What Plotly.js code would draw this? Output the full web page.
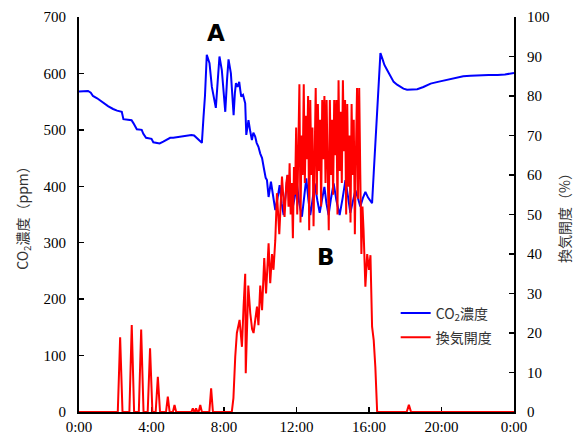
<!DOCTYPE html>
<html>
<head>
<meta charset="utf-8">
<script src="https://cdn.plot.ly/plotly-3.0.1.min.js"></script>
<style>
html,body{margin:0;padding:0;background:#fff;}
#chart{width:575px;height:443px;}
</style>
</head>
<body>
<div id="chart"></div>
<script>
// Time axis ticks
var tickHours = [0, 4, 8, 12, 16, 20, 24];
var tickLabels = ["0:00", "4:00", "8:00", "12:00", "16:00", "20:00", "0:00"];

// CO2 concentration (ppm), time in hours
var co2Hours = [0.0,0.3,0.5,0.65,0.77,1.0,1.33,1.6,1.88,2.1,2.36,2.45,2.7,2.9,3.0,3.19,3.46,3.55,3.7,4.0,4.1,4.25,4.45,4.65,4.85,5.03,5.2,5.4,5.6,5.85,6.0,6.2,6.35,6.5,6.65,6.78,6.87,6.95,7.05,7.2,7.33,7.45,7.55,7.65,7.75,7.88,7.98,8.07,8.17,8.25,8.38,8.45,8.53,8.6,8.66,8.75,8.84,8.9,8.95,9.05,9.17,9.23,9.3,9.35,9.45,9.54,9.62,9.72,9.8,9.9,10.0,10.1,10.2,10.3,10.37,10.46,10.59,10.7,10.83,10.95,11.07,11.18,11.29,11.4,11.51,11.65,11.8,11.9,12.02,12.15,12.3,12.42,12.54,12.65,12.76,12.88,13.0,13.15,13.28,13.4,13.54,13.65,13.77,13.9,14.05,14.2,14.38,14.55,14.7,14.85,14.97,15.1,15.25,15.4,15.52,15.65,15.8,15.95,16.05,16.17,16.26,16.35,16.45,16.55,16.63,16.75,16.85,17.0,17.18,17.36,17.55,17.73,17.9,18.1,18.4,18.66,19.0,19.4,19.8,20.3,20.7,21.2,21.6,22.15,22.6,23.1,23.5,24.0];
var co2Ppm = [568,569,569,566,560,556,548,542,537,534,532,519,518,517,512,501,500,493,486,484,478,477,476,479,483,486,486,487,488,489,491,491,490,486,481,477,523,560,633,618,576,555,539,585,630,606,565,532,590,625,600,560,526,565,583,576,585,570,559,562,547,491,510,517,497,482,495,488,477,470,458,450,432,415,411,381,408,385,358,378,402,370,349,385,420,385,364,380,405,370,346,380,414,378,349,375,405,375,353,375,399,370,349,378,405,375,349,380,411,380,353,372,393,378,364,378,390,380,376,370,423,480,541,600,636,625,615,606,595,585,580,576,573,571,571,572,576,582,585,589,592,595,596,597,597,597,598,601];

// Ventilation opening (%), time in hours
var ventHours = [0,2.14,2.27,2.40,2.78,2.91,3.04,3.30,3.43,3.56,3.79,3.92,4.05,4.23,4.35,4.47,4.80,4.90,5.00,5.18,5.27,5.36,6.20,6.28,6.36,6.39,6.46,6.53,6.60,6.69,6.78,7.19,7.29,7.39,
  8.43,8.52,8.62,8.71,8.86,8.99,9.08,9.17,9.20,9.32,9.34,9.45,9.55,9.63,9.72,9.82,9.90,10.0,10.1,10.22,10.32,10.46,10.55,10.65,10.73,10.83,10.92,11.05,11.2,11.34,11.44,
  11.50,11.56,11.62,11.68,11.74,11.80,11.86,11.92,11.98,12.04,12.10,12.16,12.22,12.28,12.34,12.40,12.46,12.52,12.58,12.64,12.70,12.76,12.82,12.88,12.94,13.00,13.06,13.12,13.18,13.24,13.30,13.36,13.42,13.48,13.54,13.60,13.66,13.72,13.78,13.84,13.90,13.96,14.02,14.08,14.14,14.20,14.26,14.32,14.38,14.44,14.50,14.56,14.62,14.68,14.74,14.80,14.86,14.92,14.98,15.04,15.10,15.16,15.22,15.28,15.34,15.40,15.46,15.52,15.58,15.64,15.70,15.80,15.90,16.0,16.08,16.17,16.26,16.35,16.45,
  18.08,18.2,18.32,24];
var ventPct = [0,0,18.9,0,0,22.0,0,0,20.9,0,0,16.1,0,0,8.9,0,0,3.9,0,0,1.8,0,0,0.9,0,0,0.9,0,0,1.8,0,0,6.0,0,
  0,3.5,14,20,23.3,16.5,26.7,35,9.8,28,32,25,21,20,24,26.7,22,32,25.8,39,30,42.7,32.6,40,36,43.5,55.4,45,59.6,49.4,58,
  60,52,63,50,58,44,62,55,72,50,66,83,48,70,60,83,58,75,64,80,46,79,60,72,47,70,82,55,78,61,74,52,79,64,80,58,79,62,46,79,60,74,55,79,65,79,50,84,61,76,58,84,66,79,50,78,57,70,48,78,60,74,45,66,82,54,82,60,40,52,46,31.7,40,36,39.7,21.6,18.2,11.4,0,
  0,1.8,0,0];

var co2Trace = {
  x: co2Hours, y: co2Ppm, type: 'scatter', mode: 'lines',
  name: 'CO<sub>2</sub>濃度', legendgroup: 'g1',
  line: {color: '#0000ff', width: 2}
};
var ventTrace = {
  x: ventHours, y: ventPct, type: 'scatter', mode: 'lines', yaxis: 'y2',
  name: '換気開度', legendgroup: 'g2',
  line: {color: '#ff0000', width: 2}
};

var cjkFont = {family: 'Noto Sans CJK JP', size: 14, color: '#333'};

var layout = {
  width: 575, height: 443,
  font: {family: 'Liberation Serif', size: 15, color: '#000'},
  margin: {l: 79, r: 61, t: 17, b: 31, pad: 0},
  paper_bgcolor: '#fff', plot_bgcolor: '#fff',
  showlegend: true,
  legend: {
    x: 0.728, y: 0.29, xanchor: 'left', yanchor: 'top',
    font: cjkFont, bgcolor: 'rgba(0,0,0,0)',
    traceorder: 'grouped', tracegroupgap: 3
  },
  xaxis: {
    range: [0, 24], tickmode: 'array', tickvals: tickHours, ticktext: tickLabels,
    ticks: 'inside', ticklen: 5, tickwidth: 1.5, tickcolor: '#000',
    showline: true, linecolor: '#000', linewidth: 2,
    showgrid: false, zeroline: false,
    layer: 'below traces'
  },
  yaxis: {
    range: [0, 700], dtick: 100, tick0: 0,
    ticks: 'inside', ticklen: 5, tickwidth: 1.5, tickcolor: '#000',
    showline: true, linecolor: '#000', linewidth: 2,
    showgrid: false, zeroline: false,
    ticklabelstandoff: 8,
    title: {text: 'CO<sub>2</sub>濃度（ppm）', font: cjkFont, standoff: 12}
  },
  yaxis2: {
    range: [0, 100], dtick: 10, tick0: 0, overlaying: 'y', side: 'right',
    ticks: 'inside', ticklen: 5, tickwidth: 1.5, tickcolor: '#000',
    showline: true, linecolor: '#000', linewidth: 2,
    showgrid: false, zeroline: false,
    ticklabelstandoff: 8,
    title: {text: '換気開度（%）', font: cjkFont, standoff: 12}
  },
  annotations: [
    {x: 7.57, y: 672, xref: 'x', yref: 'y', text: '<b>A</b>', showarrow: false,
     font: {family: 'DejaVu Sans', size: 23, color: '#000'}},
    {x: 13.65, y: 275, xref: 'x', yref: 'y', text: '<b>B</b>', showarrow: false,
     font: {family: 'DejaVu Sans', size: 23, color: '#000'}}
  ]
};

Plotly.newPlot('chart', [co2Trace, ventTrace], layout, {displayModeBar: false, staticPlot: true});
</script>
</body>
</html>
